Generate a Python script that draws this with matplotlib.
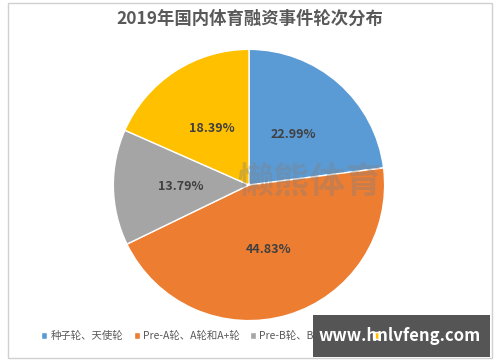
import matplotlib.pyplot as plt
from matplotlib.patches import Rectangle

plt.rcParams['font.family'] = ['Noto Sans CJK SC', 'DejaVu Sans']

# rounds of funding, share of events (%)
labels = ['种子轮、天使轮', 'Pre-A轮、A轮和A+轮', 'Pre-B轮、B轮及B轮后', '未透露/战略投资']
shares = [22.99, 44.83, 13.79, 18.39]
colors = ['#5B9BD5', '#ED7D31', '#A5A5A5', '#FFC000']

fig = plt.figure(figsize=(5, 3.62), dpi=100)
fig.patch.set_facecolor('white')

# outer frame of the chart
fig.add_artist(Rectangle((0.016, 0.012), 0.968, 0.98, transform=fig.transFigure,
                         fill=False, edgecolor='#D0D0D0', linewidth=1))

fig.text(0.5, 0.948, '2019年国内体育融资事件轮次分布', ha='center', va='center',
         fontsize=12.5, fontweight='bold', color='#595959')

ax = fig.add_axes([0.498 - 0.274, 0.489 - 0.3785, 0.548, 0.757])
wedges, texts, autotexts = ax.pie(
    shares, colors=colors, startangle=90, counterclock=False,
    autopct='%.2f%%', pctdistance=0.5,
    wedgeprops=dict(edgecolor='white', linewidth=1),
    textprops=dict(fontsize=9, fontweight='bold', color='#404040'))
ax.set_xlim(-1.01, 1.01)
ax.set_ylim(-1.01, 1.01)
ax.set_aspect('equal')

# faint watermark across the pie
ax.text(0.45, 0.02, '懒熊体育', ha='center', va='center', fontsize=26,
        fontweight='bold', color='#808080', alpha=0.35)

leg = fig.legend(wedges, labels, loc='center', bbox_to_anchor=(0.5, 0.072),
                 ncol=4, frameon=False, fontsize=7.5, handlelength=0.6,
                 handleheight=0.6, handletextpad=0.3, columnspacing=1.0)
for t in leg.get_texts():
    t.set_color('#595959')

# site stamp in the lower right corner
fig.add_artist(Rectangle((0.626, 0.014), 0.354, 0.116, transform=fig.transFigure,
                         facecolor='#555555', edgecolor='none', zorder=5))
fig.text(0.8, 0.072, 'www.hnlvfeng.com', ha='center', va='center', fontsize=12,
         fontweight='bold', color='white', zorder=6)

fig.savefig('out.png', dpi=100)
